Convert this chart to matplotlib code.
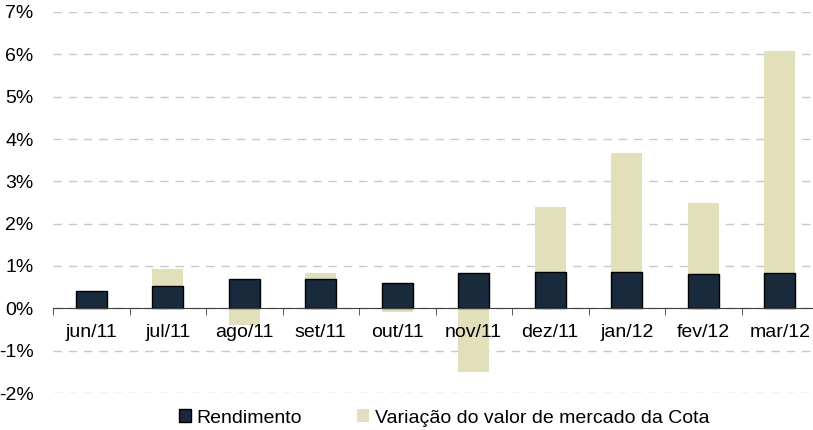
import matplotlib.pyplot as plt
import numpy as np
from matplotlib.ticker import FuncFormatter

plt.rcParams['font.family'] = ['Liberation Sans', 'DejaVu Sans']

meses = ['jun/11', 'jul/11', 'ago/11', 'set/11', 'out/11',
         'nov/11', 'dez/11', 'jan/12', 'fev/12', 'mar/12']
rendimento = [0.40, 0.52, 0.69, 0.69, 0.59, 0.83, 0.85, 0.85, 0.80, 0.83]
variacao = [0.00, 0.40, -0.40, 0.14, -0.09, -1.51, 1.54, 2.81, 1.68, 5.26]

cor_rend = '#192a3c'
cor_var = '#e2dfbb'

fig = plt.figure(figsize=(8.13, 4.30), dpi=100)
ax = fig.add_axes([53 / 813, 1 - 393 / 430, 1 - 53 / 813, (393 - 12) / 430])

x = np.arange(len(meses)) + 0.5
rend = np.array(rendimento)
var = np.array(variacao)
base_var = np.where(var > 0, rend, 0)

ax.bar(x, var, 0.40, bottom=base_var, color=cor_var, zorder=2,
       label='Variação do valor de mercado da Cota')
ax.bar(x, rend, 0.40, color=cor_rend, edgecolor='black', linewidth=1,
       zorder=3, label='Rendimento')

ax.set_ylim(-2, 7)
ax.set_xlim(0, 760 / 76.5)
ax.set_yticks(range(-2, 8))
ax.yaxis.set_major_formatter(FuncFormatter(lambda v, p: f'{v:.0f}%'))
ax.grid(axis='y', color='#c8c8c8', linestyle=(0, (6, 5)), linewidth=1, zorder=0)

for s in ['top', 'right', 'left']:
    ax.spines[s].set_visible(False)
ax.spines['bottom'].set_position(('data', 0))
ax.spines['bottom'].set_color('#404040')
ax.spines['bottom'].set_zorder(4)
ax.xaxis.set_zorder(5)

ax.set_xticks(x)
ax.set_xticklabels(meses)
ax.set_xticks(np.arange(len(meses)), minor=True)
ax.tick_params(axis='x', which='major', length=0, pad=11, labelsize=14)
ax.tick_params(axis='x', which='minor', length=5, color='#404040', direction='out')
ax.tick_params(axis='y', length=0, pad=14, labelsize=14)

h, l = ax.get_legend_handles_labels()
fig.legend(h[::-1], l[::-1], loc='center', bbox_to_anchor=(0.546, 0.028),
           ncol=2, frameon=False, fontsize=14, handlelength=0.62,
           handleheight=0.62, handletextpad=0.3, columnspacing=2.8)

plt.savefig('out.png', dpi=100)
